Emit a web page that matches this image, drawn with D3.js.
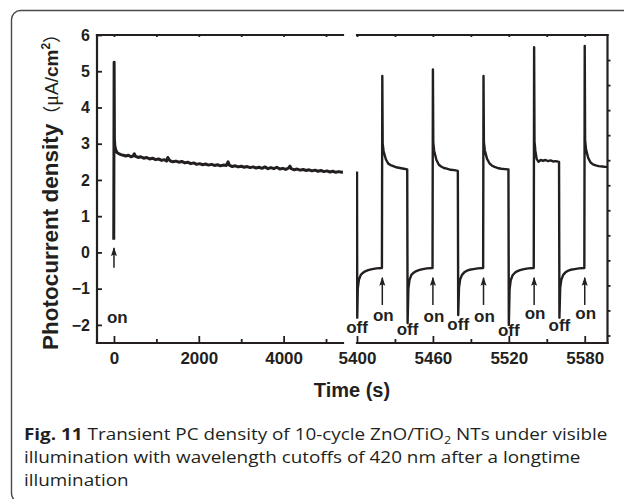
<!DOCTYPE html>
<html>
<head>
<meta charset="utf-8">
<script src="https://cdn.jsdelivr.net/npm/d3@7"></script>
<style>
  body { margin: 0; background: #fff; }
  text { font-family: "Liberation Sans", Arial, sans-serif; }
</style>
</head>
<body>
<svg id="chart" width="624" height="499"></svg>
<script>
// long illumination run, time (s) and photocurrent density (uA/cm2)
const longTime = [-5, 4, 10, 20, 40, 70, 110, 160, 220, 280, 340, 400, 450, 480, 510, 570, 630, 700,
  770, 840, 910, 980, 1050, 1120, 1190, 1240, 1270, 1320, 1390, 1460, 1530, 1600, 1670, 1740, 1810,
  1880, 1950, 2020, 2090, 2160, 2230, 2300, 2370, 2440, 2510, 2580, 2650, 2690, 2720, 2790, 2860,
  2930, 3000, 3070, 3140, 3210, 3280, 3350, 3420, 3490, 3560, 3630, 3700, 3770, 3840, 3910, 3980,
  4050, 4120, 4150, 4180, 4250, 4320, 4390, 4460, 4530, 4600, 4670, 4740, 4810, 4880, 4950, 5020,
  5090, 5160, 5230, 5300, 5370, 5400];
const longCurrent = [0.35, 5.25, 3.15, 2.95, 2.84, 2.76, 2.73, 2.70, 2.68, 2.66, 2.68, 2.64, 2.66, 2.72,
  2.65, 2.62, 2.64, 2.60, 2.62, 2.58, 2.60, 2.56, 2.58, 2.54, 2.56, 2.52, 2.62, 2.53, 2.50, 2.52, 2.49,
  2.51, 2.47, 2.49, 2.45, 2.47, 2.43, 2.45, 2.42, 2.44, 2.41, 2.43, 2.40, 2.42, 2.39, 2.41, 2.40, 2.50,
  2.41, 2.37, 2.39, 2.36, 2.38, 2.35, 2.37, 2.34, 2.36, 2.33, 2.35, 2.32, 2.36, 2.31, 2.34, 2.31, 2.35,
  2.30, 2.32, 2.29, 2.33, 2.38, 2.31, 2.28, 2.30, 2.27, 2.29, 2.26, 2.28, 2.25, 2.27, 2.24, 2.26, 2.23,
  2.25, 2.22, 2.24, 2.21, 2.23, 2.21, 2.23];

// light on/off cycling after the long run
const cycleTime = [5400.0, 5400.2, 5400.6, 5401.5, 5403.0, 5404.8, 5406.5, 5408.8, 5412.0, 5415.4, 5419.7,
  5420.0, 5420.3, 5421.0, 5422.8, 5424.7, 5426.5, 5428.7, 5431.0, 5434.0, 5437.0, 5439.7,
  5440.0, 5440.6, 5441.5, 5443.0, 5444.8, 5446.5, 5448.8, 5452.0, 5455.4, 5459.7,
  5460.0, 5460.3, 5461.0, 5462.8, 5464.7, 5466.5, 5468.7, 5471.0, 5474.0, 5477.0, 5479.7,
  5480.0, 5480.6, 5481.5, 5483.0, 5484.8, 5486.5, 5488.8, 5492.0, 5495.4, 5499.7,
  5500.0, 5500.3, 5501.0, 5502.8, 5504.7, 5506.5, 5508.7, 5511.0, 5514.0, 5517.0, 5519.7,
  5520.0, 5520.6, 5521.5, 5523.0, 5524.8, 5526.5, 5528.8, 5532.0, 5535.4, 5539.7,
  5540.0, 5540.3, 5541.0, 5542.0, 5543.5, 5545.0, 5547.0, 5549.0, 5551.0, 5553.0, 5555.0, 5557.0, 5559.7,
  5560.0, 5560.6, 5561.5, 5563.0, 5564.8, 5566.5, 5568.8, 5572.0, 5575.4, 5579.7,
  5580.0, 5580.3, 5581.0, 5582.8, 5584.7, 5586.5, 5588.7, 5591.0, 5594.0, 5596.0, 5598.0];
const cycleCurrent = [2.23, -1.80, -1.00, -0.76, -0.62, -0.56, -0.52, -0.49, -0.46, -0.44, -0.43,
  4.87, 3.00, 2.80, 2.57, 2.45, 2.41, 2.38, 2.35, 2.33, 2.31, 2.29,
  -1.95, -1.00, -0.76, -0.62, -0.56, -0.52, -0.49, -0.46, -0.44, -0.43,
  5.05, 3.02, 2.80, 2.55, 2.42, 2.37, 2.33, 2.31, 2.28, 2.27, 2.25,
  -1.73, -0.98, -0.75, -0.62, -0.55, -0.51, -0.48, -0.46, -0.44, -0.43,
  4.87, 3.05, 2.82, 2.58, 2.46, 2.40, 2.36, 2.33, 2.31, 2.30, 2.29,
  -2.00, -1.02, -0.77, -0.63, -0.56, -0.52, -0.49, -0.46, -0.44, -0.43,
  5.66, 3.06, 2.80, 2.58, 2.50, 2.55, 2.53, 2.55, 2.52, 2.54, 2.51, 2.52, 2.50,
  -1.80, -0.98, -0.76, -0.62, -0.55, -0.51, -0.48, -0.46, -0.44, -0.43,
  5.70, 3.10, 2.85, 2.60, 2.48, 2.43, 2.40, 2.38, 2.37, 2.36, 2.36];

const onTimes = [5420, 5460, 5500, 5540, 5580];
const offTimes = [5400, 5440, 5480, 5520, 5560];

const yTicks = [-2, -1, 0, 1, 2, 3, 4, 5, 6];
const leftMajor = [0, 2000, 4000];
const leftMinor = [1000, 3000, 5000];
const rightMajor = [5400, 5460, 5520, 5580];
const rightMinor = [5430, 5490, 5550];
const rightAxisTicks = [1, 2, 3, 4, 5, 6, 7, 8, 9, 10, 11, 12];

const captionLines = [
  [{ t: "Fig. 11", b: true }, { t: " Transient PC density of 10-cycle ZnO/TiO" }, { t: "2", sub: true }, { t: " NTs under visible", after: true }],
  [{ t: "illumination with wavelength cutoffs of 420 nm after a longtime" }],
  [{ t: "illumination" }]
];
const captionFirstWidth = 584;

const ink = '#231f20';
const svg = d3.select('#chart');

// frame
svg.append('rect')
  .attr('x', 11.5).attr('y', 10.5)
  .attr('width', 700).attr('height', 492)
  .attr('rx', 9).attr('ry', 9)
  .attr('fill', 'none')
  .attr('stroke', '#4a4a4a')
  .attr('stroke-width', 1.4);

const plotTop = 35, plotBottom = 343;
const xL = d3.scaleLinear().domain([-400, 5400]).range([97, 343]);
const xR = d3.scaleLinear().domain([5400, 5598]).range([357, 607.5]);
const y = d3.scaleLinear().domain([-2.5, 6]).range([plotBottom, plotTop]);
const yRight = d3.scaleLinear().domain([0, 12.3]).range([plotTop, plotBottom]);

const defs = svg.append('defs');
defs.append('clipPath').attr('id', 'clipL').append('rect')
  .attr('x', 97).attr('y', 0).attr('width', 246).attr('height', 499);
defs.append('clipPath').attr('id', 'clipR').append('rect')
  .attr('x', 356).attr('y', 0).attr('width', 252).attr('height', 499);
defs.append('marker')
  .attr('id', 'arrowHead')
  .attr('viewBox', '0 0 7 9')
  .attr('refX', 3.5).attr('refY', 1)
  .attr('markerWidth', 7).attr('markerHeight', 9)
  .attr('markerUnits', 'userSpaceOnUse')
  .attr('orient', '0')
  .append('path')
  .attr('d', 'M0.5,9 L3.5,0 L6.5,9 L3.5,7.5 Z')
  .attr('fill', ink);

// data lines
const lineL = d3.line().x(d => xL(d[0])).y(d => y(d[1]));
const lineR = d3.line().x(d => xR(d[0])).y(d => y(d[1]));

svg.append('path')
  .datum(longTime.map((t, i) => [t, longCurrent[i]]))
  .attr('clip-path', 'url(#clipL)')
  .attr('d', lineL)
  .attr('fill', 'none')
  .attr('stroke', ink)
  .attr('stroke-width', 3)
  .attr('stroke-linejoin', 'round');

svg.append('path')
  .datum(cycleTime.map((t, i) => [t, cycleCurrent[i]]))
  .attr('clip-path', 'url(#clipR)')
  .attr('d', lineR)
  .attr('fill', 'none')
  .attr('stroke', ink)
  .attr('stroke-width', 2.4)
  .attr('stroke-linejoin', 'round');

// axes
function styleAxis(g) {
  g.select('.domain').remove();
  g.selectAll('line').attr('stroke', ink).attr('stroke-width', 1.8);
  g.selectAll('text')
    .attr('fill', ink)
    .attr('font-weight', 'bold')
    .style('font-family', '"Liberation Sans", Arial, sans-serif');
}

svg.append('g')
  .attr('transform', `translate(0,${plotBottom})`)
  .call(d3.axisBottom(xL).tickValues(leftMajor).tickSize(-7).tickPadding(9).tickFormat(d3.format('d')))
  .call(styleAxis)
  .selectAll('text').attr('font-size', 17);
svg.append('g')
  .attr('transform', `translate(0,${plotBottom})`)
  .call(d3.axisBottom(xL).tickValues(leftMinor).tickSize(-4).tickFormat(''))
  .call(styleAxis);
svg.append('g')
  .attr('transform', `translate(0,${plotBottom})`)
  .call(d3.axisBottom(xR).tickValues(rightMajor).tickSize(-7).tickPadding(9).tickFormat(d3.format('d')))
  .call(styleAxis)
  .selectAll('text').attr('font-size', 17);
svg.append('g')
  .attr('transform', `translate(0,${plotBottom})`)
  .call(d3.axisBottom(xR).tickValues(rightMinor).tickSize(-4).tickFormat(''))
  .call(styleAxis);

svg.append('g')
  .attr('transform', `translate(0,${plotTop})`)
  .call(d3.axisTop(xL).tickValues(leftMajor.concat(leftMinor)).tickSize(-2).tickFormat(''))
  .call(styleAxis);
svg.append('g')
  .attr('transform', `translate(0,${plotTop})`)
  .call(d3.axisTop(xR).tickValues(rightMajor.concat(rightMinor)).tickSize(-2).tickFormat(''))
  .call(styleAxis);

svg.append('g')
  .attr('transform', 'translate(97,0)')
  .call(d3.axisLeft(y).tickValues(yTicks).tickSize(-5).tickPadding(7))
  .call(styleAxis)
  .selectAll('text').attr('font-size', 16);

svg.append('g')
  .attr('transform', 'translate(607.5,0)')
  .call(d3.axisRight(yRight).tickValues(rightAxisTicks).tickSize(3).tickFormat(''))
  .call(styleAxis);

// axis frame lines (broken between panels)
const frameLines = [
  [97, plotTop, 97, plotBottom],
  [97, plotBottom, 343, plotBottom], [357, plotBottom, 607.5, plotBottom],
  [97, plotTop, 343, plotTop], [357, plotTop, 607.5, plotTop],
  [607.5, plotTop, 607.5, plotBottom]
];
svg.append('g').selectAll('line')
  .data(frameLines)
  .join('line')
  .attr('x1', d => d[0]).attr('y1', d => d[1])
  .attr('x2', d => d[2]).attr('y2', d => d[3])
  .attr('stroke', ink)
  .attr('stroke-width', 2.2)
  .attr('stroke-linecap', 'square');

// arrows and on/off labels
const ann = svg.append('g').attr('fill', ink).attr('font-weight', 'bold').attr('font-size', 17);

ann.append('line')
  .attr('x1', xL(0)).attr('x2', xL(0))
  .attr('y1', y(-0.42)).attr('y2', y(0.12))
  .attr('stroke', ink).attr('stroke-width', 1.5)
  .attr('marker-end', 'url(#arrowHead)');
ann.append('text')
  .attr('x', xL(0) - 7).attr('y', 323)
  .text('on');

ann.selectAll('.on-arrow')
  .data(onTimes)
  .join('line')
  .attr('class', 'on-arrow')
  .attr('x1', d => xR(d)).attr('x2', d => xR(d))
  .attr('y1', y(-1.45)).attr('y2', y(-0.7))
  .attr('stroke', ink).attr('stroke-width', 1.5)
  .attr('marker-end', 'url(#arrowHead)');

const onBase = [321, 322, 322, 319, 319];
const offBase = [333, 335, 330, 336, 331];

ann.selectAll('.on-label')
  .data(onTimes)
  .join('text')
  .attr('class', 'on-label')
  .attr('x', d => xR(d) + 1)
  .attr('y', (d, i) => onBase[i])
  .attr('text-anchor', 'middle')
  .text('on');

ann.selectAll('.off-label')
  .data(offTimes)
  .join('text')
  .attr('class', 'off-label')
  .attr('x', d => xR(d))
  .attr('y', (d, i) => offBase[i])
  .attr('text-anchor', 'middle')
  .text('off');

// axis titles
svg.append('text')
  .attr('x', 352).attr('y', 397)
  .attr('text-anchor', 'middle')
  .attr('font-weight', 'bold')
  .attr('font-size', 20)
  .attr('fill', ink)
  .text('Time (s)');

const yTitle = svg.append('text')
  .attr('transform', 'translate(58,350) rotate(-90)')
  .attr('fill', ink);
yTitle.append('tspan').attr('font-weight', 'bold').attr('font-size', 22.5).text('Photocurrent density');
yTitle.append('tspan').style('font-family', '"Noto Sans CJK SC"').attr('font-size', 18).text('（');
yTitle.append('tspan').style('font-family', '"Liberation Serif", serif').attr('font-size', 20).text('μ');
yTitle.append('tspan').attr('font-size', 19).text('A/');
yTitle.append('tspan').attr('font-weight', 'bold').attr('font-size', 19).text('cm');
yTitle.append('tspan').attr('font-weight', 'bold').attr('font-size', 12).attr('dy', -8).text('2');
yTitle.append('tspan').style('font-family', '"Noto Sans CJK SC"').attr('font-size', 18).attr('dy', 8).text('）');

// caption, one horizontal squeeze for all lines so they share a font
const capBase = [440, 463, 486];
const capTexts = captionLines.map(parts => {
  const t = svg.append('text')
    .attr('font-size', 16.5)
    .attr('fill', ink)
    .style('font-family', '"Open Sans", "Noto Sans", sans-serif');
  parts.forEach(p => {
    const s = t.append('tspan').text(p.t);
    if (p.b) s.attr('font-weight', 'bold');
    if (p.sub) s.attr('font-size', 11).attr('dy', 4);
    if (p.after) s.attr('dy', -4);
  });
  return t;
});
const capScale = captionFirstWidth / capTexts[0].node().getComputedTextLength();
capTexts.forEach((t, i) => {
  t.attr('transform', `translate(24,${capBase[i]}) scale(${capScale},1)`);
});
</script>
</body>
</html>
